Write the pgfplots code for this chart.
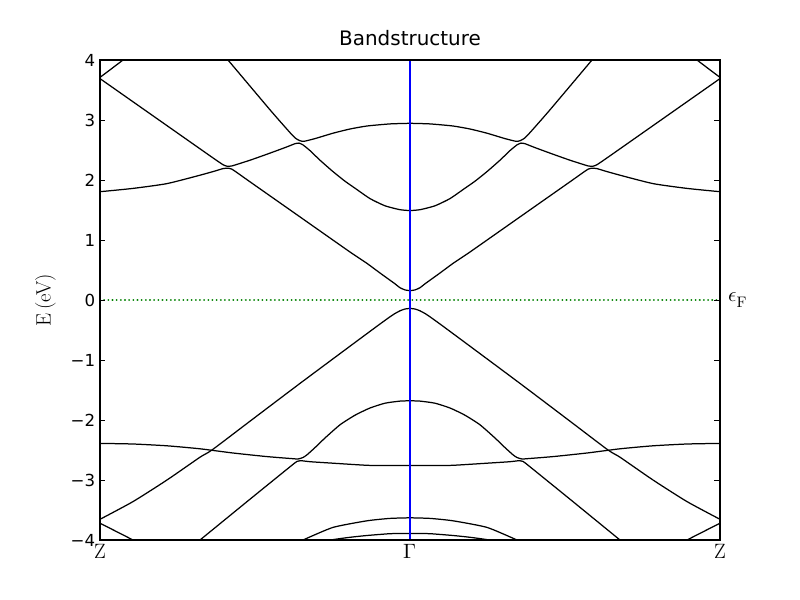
\documentclass[border=0pt]{standalone}
\usepackage[no-math]{fontspec}
\setmainfont{DejaVu Sans}
\newfontfamily\lmr{Latin Modern Roman}
\newfontfamily\lmm{Latin Modern Math}
\usepackage{pgfplots}
\usepackage{pgfplotstable}
\pgfplotsset{compat=1.18}
\definecolor{mplgreen}{rgb}{0,0.5,0}
\definecolor{mplblue}{rgb}{0,0,1}
\newcommand{\bigser}{\fontsize{15}{18}\selectfont}

% k = distance along path (0 = Z, 310 = Gamma, 620 = Z); left half only, mirrored
\pgfplotstableread{
k E
0 3.71
23 4.0
50 4.35
}\bA
\pgfplotstableread{
k E
0 1.805
33 1.86
67 1.94
100 2.08
115 2.15
123 2.19
127 2.195
132 2.18
150 1.97
200 1.385
250 0.80
267 0.61
280 0.45
290 0.33
295 0.27
300 0.205
305 0.168
310 0.155
}\cA
\pgfplotstableread{
k E
0 3.69
50 3.105
100 2.52
115 2.345
123 2.255
127 2.23
132 2.235
150 2.33
167 2.43
185 2.54
195 2.605
199 2.615
203 2.585
210 2.49
220 2.33
233 2.14
245 1.98
257 1.84
270 1.69
285 1.57
300 1.505
310 1.49
}\cB
\pgfplotstableread{
k E
100 4.55
128 4.0
170 3.17
190 2.79
196 2.69
200 2.655
204 2.645
215 2.69
233 2.78
250 2.85
267 2.90
290 2.935
310 2.945
}\cC
\pgfplotstableread{
k E
0 -3.72
33 -4.0
50 -4.15
}\vZ
\pgfplotstableread{
k E
0 -3.655
33 -3.36
67 -3.00
100 -2.62
112 -2.50
150 -2.02
200 -1.39
250 -0.77
267 -0.56
280 -0.40
290 -0.28
295 -0.225
300 -0.18
305 -0.15
310 -0.14
}\vA
\pgfplotstableread{
k E
0 -2.39
33 -2.40
67 -2.43
100 -2.48
133 -2.55
167 -2.61
193 -2.645
198 -2.65
203 -2.625
207 -2.58
215 -2.46
225 -2.30
240 -2.08
255 -1.92
270 -1.80
285 -1.72
300 -1.685
310 -1.68
}\vB
\pgfplotstableread{
k E
60 -4.54
100 -4.0
150 -3.32
190 -2.78
197 -2.69
202 -2.68
210 -2.695
233 -2.72
267 -2.755
290 -2.76
310 -2.76
}\vC
\pgfplotstableread{
k E
190 -4.1
203 -4.0
233 -3.79
267 -3.68
290 -3.64
310 -3.63
}\vD
\pgfplotstableread{
k E
215 -4.08
231 -4.0
250 -3.955
267 -3.925
290 -3.895
310 -3.89
}\vE

\begin{document}
\begin{tikzpicture}
\useasboundingbox (-1in,-0.6in) rectangle (7in,5.4in);
\begin{axis}[
  at={(0,0)}, anchor=south west,
  width=6.2in, height=4.8in, scale only axis,
  xmin=0, xmax=620, ymin=-4, ymax=4,
  xtick={0,310,620},
  xticklabels={{\bigser\lmr Z},{\bigser\lmm Γ},{\bigser\lmr Z}},
  ytick={-4,-3,-2,-1,0,1,2,3,4},
  yticklabels={−4,−3,−2,−1,0,1,2,3,4},
  y tick label style={font=\fontsize{12}{14}\selectfont},
  x tick label style={yshift=0.01in},
  xtick style={draw=none},
  ytick style={black, line width=0.7pt},
  major tick length=0.055in,
  axis line style={black, line width=0.9pt},
  axis on top,
  clip mode=individual,
  title={Bandstructure},
  title style={font=\fontsize{14.4}{17}\selectfont, at={(axis description cs:0.5,1)}, anchor=base, yshift=0.06in},
  ylabel={\bigser\lmr E\,(eV)},
  every axis y label/.style={at={(axis description cs:-0.088,0.5)}, rotate=90, anchor=center},
  band/.style={black, solid, no marks, line width=0.9pt, line join=round, smooth, tension=0.35},
]
\addplot[band] table[x=k, y=E] {\bA};
\addplot[band] table[x expr=620-\thisrow{k}, y=E] {\bA};
\addplot[band] table[x=k, y=E] {\cA};
\addplot[band] table[x expr=620-\thisrow{k}, y=E] {\cA};
\addplot[band] table[x=k, y=E] {\cB};
\addplot[band] table[x expr=620-\thisrow{k}, y=E] {\cB};
\addplot[band] table[x=k, y=E] {\cC};
\addplot[band] table[x expr=620-\thisrow{k}, y=E] {\cC};
\addplot[band] table[x=k, y=E] {\vZ};
\addplot[band] table[x expr=620-\thisrow{k}, y=E] {\vZ};
\addplot[band] table[x=k, y=E] {\vA};
\addplot[band] table[x expr=620-\thisrow{k}, y=E] {\vA};
\addplot[band] table[x=k, y=E] {\vB};
\addplot[band] table[x expr=620-\thisrow{k}, y=E] {\vB};
\addplot[band] table[x=k, y=E] {\vC};
\addplot[band] table[x expr=620-\thisrow{k}, y=E] {\vC};
\addplot[band] table[x=k, y=E] {\vD};
\addplot[band] table[x expr=620-\thisrow{k}, y=E] {\vD};
\addplot[band] table[x=k, y=E] {\vE};
\addplot[band] table[x expr=620-\thisrow{k}, y=E] {\vE};
\addplot[mplgreen, solid, no marks, line width=1.5pt, line cap=round, dash pattern=on 0.01pt off 3pt] coordinates {(0,0) (620,0)};
\addplot[mplblue, solid, no marks, line width=1.8pt] coordinates {(0,-4) (0,4)};
\addplot[mplblue, solid, no marks, line width=1.8pt] coordinates {(310,-4) (310,4)};
\addplot[mplblue, solid, no marks, line width=1.8pt] coordinates {(620,-4) (620,4)};
\node[anchor=west, inner sep=0pt, xshift=0.08in] at (axis cs:620,0) {\bigser{\lmm 𝜖}\raisebox{-0.55ex}{\fontsize{11}{12}\selectfont\lmr F}};
\end{axis}
\end{tikzpicture}
\end{document}
